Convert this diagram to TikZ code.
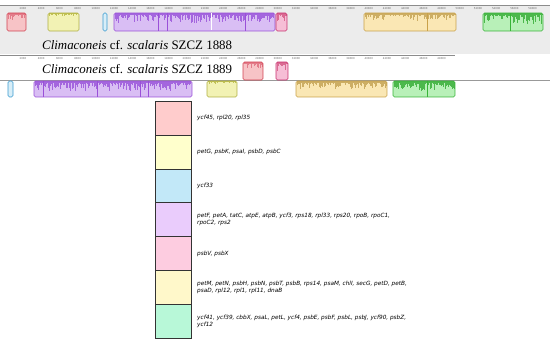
\documentclass[tikz,border=0pt]{standalone}
\usepackage{fontspec}
\setmainfont{Liberation Serif}
\newfontfamily\genefont{DejaVu Sans}
\usetikzlibrary{positioning}

% block colours: fill, profile, outline
\definecolor{redfill}{HTML}{F7C3C6}\definecolor{reddark}{HTML}{E37C8A}\definecolor{redline}{HTML}{D2404F}
\definecolor{yelfill}{HTML}{F2F2B4}\definecolor{yeldark}{HTML}{C2C255}\definecolor{yelline}{HTML}{B0B040}
\definecolor{bluefill}{HTML}{D8EEF8}\definecolor{blueline}{HTML}{3A9AD0}
\definecolor{purfill}{HTML}{D9BEF4}\definecolor{purdark}{HTML}{A466DE}\definecolor{purline}{HTML}{9A50D8}
\definecolor{pinkfill}{HTML}{F6BED6}\definecolor{pinkdark}{HTML}{DA6A92}\definecolor{pinkline}{HTML}{C8306E}
\definecolor{orgfill}{HTML}{FAE7B4}\definecolor{orgdark}{HTML}{CDAE64}\definecolor{orgline}{HTML}{C9A14A}
\definecolor{grnfill}{HTML}{B8F0B8}\definecolor{grndark}{HTML}{4CB84C}\definecolor{grnline}{HTML}{38B438}
% legend colours
\definecolor{legred}{HTML}{FFCCCC}\definecolor{legyel}{HTML}{FFFFCC}\definecolor{legblue}{HTML}{C2E8F8}
\definecolor{legpur}{HTML}{EACCFC}\definecolor{legpink}{HTML}{FDCCE0}\definecolor{legcream}{HTML}{FFF8CA}
\definecolor{leggrn}{HTML}{B8F8D8}\definecolor{panelgray}{HTML}{ECECEC}

% similarity block: x1, x2, y1, y2, colour prefix, profile depth
\newcommand{\simblock}[6]{%
  \begin{scope}
    \clip[rounded corners=1.5pt] (#1,#3) rectangle (#2,#4);
    \fill[#5fill] (#1,#3) rectangle (#2,#4);
    \pgfmathsetmacro{\xa}{#1+0.8}
    \pgfmathsetmacro{\xb}{#1+1.4}
    \pgfmathsetmacro{\xc}{#2-0.8}
    \foreach \xx in {\xa,\xb,...,\xc}{
      \pgfmathsetmacro{\dd}{#6*(0.2+0.8*rnd^3)}
      \draw[#5dark, line width=0.6pt] (\xx,#3) -- ++(0,\dd);
    }
  \end{scope}
  \draw[#5line, rounded corners=1.5pt, line width=0.6pt] (#1,#3) rectangle (#2,#4);
}

\begin{document}
\begin{tikzpicture}[x=1pt, y=-1pt,
    ticklab/.style={font=\genefont\fontsize{2.6}{3}\selectfont, text=black!60, inner sep=0pt},
    genlab/.style={font=\fontsize{12.9}{13}\selectfont, inner sep=0pt, anchor=base west},
    legbox/.style={draw=black!80, line width=0.6pt, minimum width=36pt, minimum height=33.9pt, inner sep=0pt, outer sep=0pt},
    legtext/.style={font=\genefont\itshape\fontsize{5.75}{7.2}\selectfont, align=left, inner sep=0pt, anchor=west}]
  \useasboundingbox (0,0) rectangle (550,345);
  \pgfmathsetseed{7}

  % panels and rulers
  \fill[panelgray] (0,5) rectangle (550,54);
  \draw[black!45, line width=0.5pt] (0,5) -- (550,5);
  \draw[black!45, line width=0.5pt] (0,55) -- (455,55);
  \draw[black!40, line width=0.5pt] (0,80) -- (550,80);
  \foreach \k in {1,...,29}{
    \pgfmathtruncatemacro{\bp}{2*\k}
    \node[ticklab] (ta\k) at ({4.8+18.2*\k},8.5) {\bp000};
  }
  \foreach \k in {1,...,24}{
    \pgfmathtruncatemacro{\bp}{2*\k}
    \node[ticklab] (tb\k) at ({4.8+18.2*\k},58.5) {\bp000};
  }

  \node[genlab] (lab1888) at (42,50) {\textit{Climaconeis} cf. \textit{scalaris} SZCZ 1888};
  \node[genlab] (lab1889) at (42,73.5) {\textit{Climaconeis} cf. \textit{scalaris} SZCZ 1889};

  % SZCZ 1888
  \simblock{7}{26}{13}{31}{red}{8}
  \simblock{48}{79}{13}{31}{yel}{3}
  \draw[blueline, fill=bluefill, rounded corners=1.5pt, line width=0.6pt] (103,13) rectangle (107,31);
  \simblock{114}{275}{13}{31}{pur}{10}
  \foreach \xd in {158,167,245}
    \draw[purline, line width=0.4pt] (\xd,13) -- (\xd,31);
  \draw[white, line width=1pt] (211,13.5) -- (211,30.5);
  \simblock{276}{287}{13}{31}{pink}{9}
  \simblock{364}{456}{13}{31}{org}{8}
  \draw[orgline, line width=0.4pt] (427,13) -- (427,31);
  \simblock{483}{543}{13}{31}{grn}{11}
  \draw[grnline, line width=0.4pt] (510,13) -- (510,31);

  % SZCZ 1889
  \simblock{243}{263}{62}{80}{red}{8}
  \simblock{276}{288}{62}{80}{pink}{9}
  \draw[blueline, fill=bluefill, rounded corners=1.5pt, line width=0.6pt] (8,81) rectangle (13,97);
  \simblock{34}{192}{81}{97}{pur}{10}
  \foreach \xd in {43,97,140,148}
    \draw[purline, line width=0.4pt] (\xd,81) -- (\xd,97);
  \simblock{207}{237}{81}{97}{yel}{3}
  \simblock{296}{387}{81}{97}{org}{8}
  \simblock{393}{455}{81}{97}{grn}{11}
  \draw[grnline, line width=0.4pt] (427,81) -- (427,97);

  % legend
  \node[legbox, fill=legred] (box1) at (173,118) {};
  \node[legbox, fill=legyel, below=0pt of box1] (box2) {};
  \node[legbox, fill=legblue, below=0pt of box2] (box3) {};
  \node[legbox, fill=legpur, below=0pt of box3] (box4) {};
  \node[legbox, fill=legpink, below=0pt of box4] (box5) {};
  \node[legbox, fill=legcream, below=0pt of box5] (box6) {};
  \node[legbox, fill=leggrn, below=0pt of box6] (box7) {};

  \node[legtext, right=6pt of box1] (genes1) {ycf45, rpl20, rpl35};
  \node[legtext, right=6pt of box2] (genes2) {petG, psbK, psaI, psbD, psbC};
  \node[legtext, right=6pt of box3] (genes3) {ycf33};
  \node[legtext, right=6pt of box4] (genes4) {petF, petA, tatC, atpE, atpB, ycf3, rps18, rpl33, rps20, rpoB, rpoC1,\\rpoC2, rps2};
  \node[legtext, right=6pt of box5] (genes5) {psbV, psbX};
  \node[legtext, right=6pt of box6] (genes6) {petM, petN, psbH, psbN, psbT, psbB, rps14, psaM, chlI, secG, petD, petB,\\psaD, rpl12, rpl1, rpl11, dnaB};
  \node[legtext, right=6pt of box7] (genes7) {ycf41, ycf39, cbbX, psaL, petL, ycf4, psbE, psbF, psbL, psbJ, ycf90, psbZ,\\ycf12};
\end{tikzpicture}
\end{document}
